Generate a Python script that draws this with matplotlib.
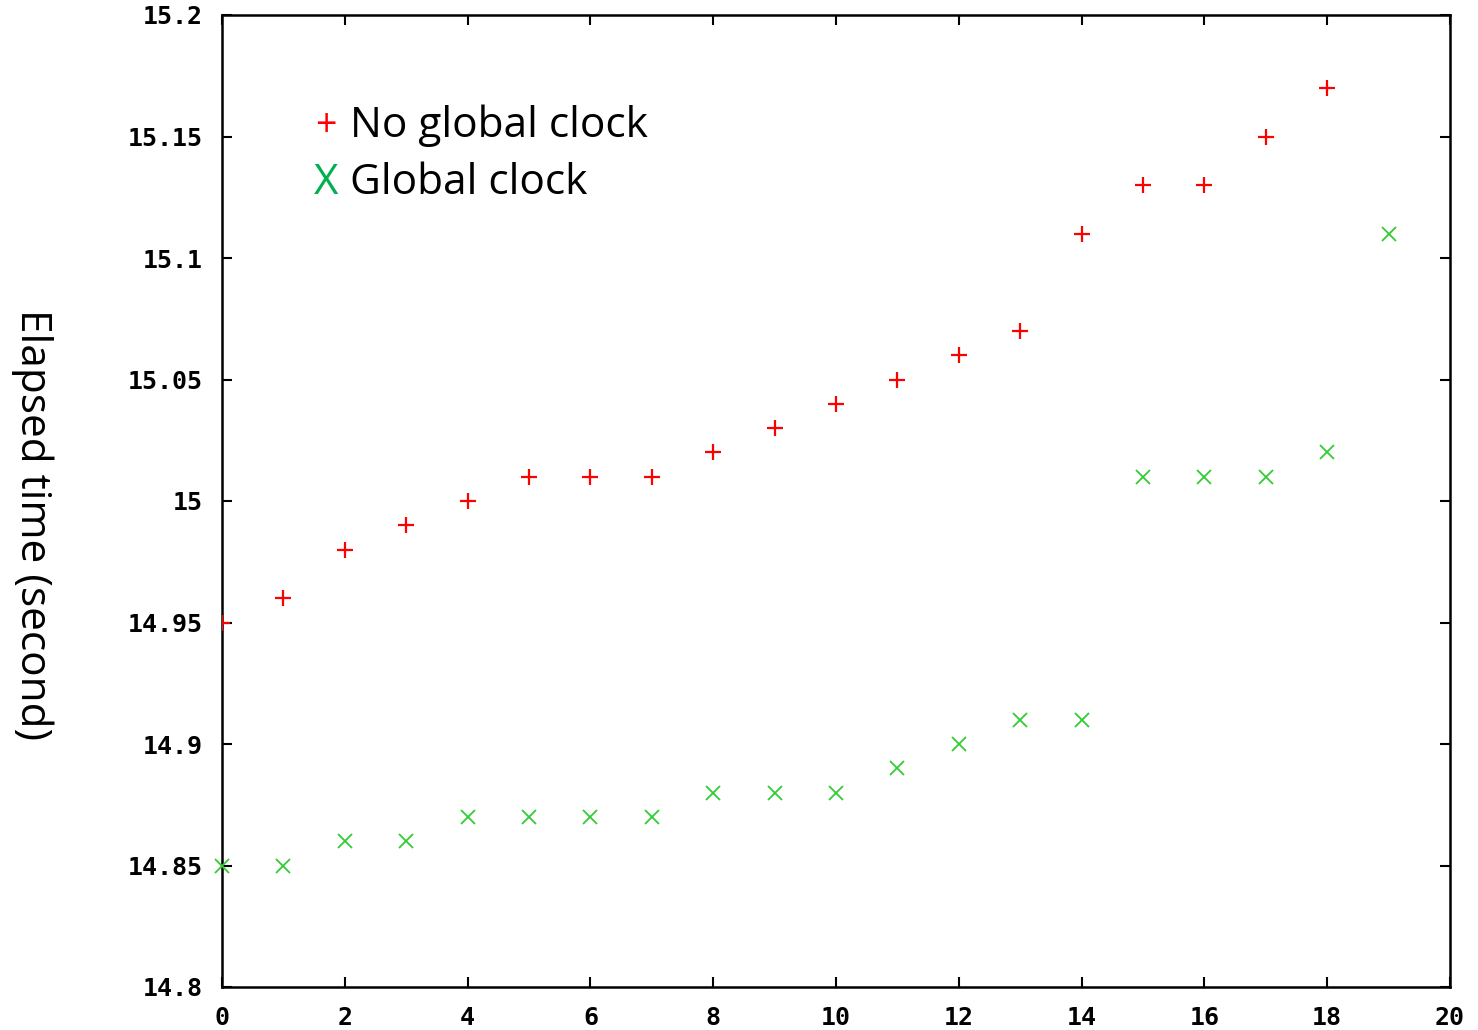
import matplotlib
matplotlib.use("Agg")
import matplotlib.pyplot as plt
from matplotlib.ticker import FuncFormatter

# run index vs elapsed time (seconds)
x_noclock = list(range(0, 19))
y_noclock = [14.95, 14.96, 14.98, 14.99, 15.00, 15.01, 15.01, 15.01, 15.02, 15.03,
             15.04, 15.05, 15.06, 15.07, 15.11, 15.13, 15.13, 15.15, 15.17]
x_clock = list(range(0, 20))
y_clock = [14.85, 14.85, 14.86, 14.86, 14.87, 14.87, 14.87, 14.87, 14.88, 14.88,
           14.88, 14.89, 14.90, 14.91, 14.91, 15.01, 15.01, 15.01, 15.02, 15.11]

x_ticks = list(range(0, 21, 2))
y_ticks = [14.8, 14.85, 14.9, 14.95, 15.0, 15.05, 15.1, 15.15, 15.2]

fig = plt.figure(figsize=(14.78, 10.30), dpi=100)
ax = fig.add_axes([222/1478, 1 - 987/1030, (1450 - 222)/1478, (987 - 15)/1030])

ax.plot(x_noclock, y_noclock, ls='none', marker='+', color='#ff0000',
        markersize=12, markeredgewidth=1.6, zorder=5)
ax.plot(x_clock, y_clock, ls='none', marker='x', color='#33cc33',
        markersize=10, markeredgewidth=1.3, clip_on=False, zorder=5)

ax.set_xlim(0, 20)
ax.set_ylim(14.8, 15.2)
ax.set_xticks(x_ticks)
ax.set_yticks(y_ticks)
ax.yaxis.set_major_formatter(FuncFormatter(lambda v, p: f'{v:g}'))

tick_font = dict(family='DejaVu Sans Mono', weight='bold', size=18)
for lbl in ax.get_xticklabels() + ax.get_yticklabels():
    lbl.set_fontproperties(matplotlib.font_manager.FontProperties(**tick_font))
ax.tick_params(direction='in', length=7, width=1.5, top=True, right=True,
               pad=14, colors='black')
ax.tick_params(axis='x', pad=14)
for s in ax.spines.values():
    s.set_linewidth(1.8)

# hand-made legend
ax.text(326/1478, 1 - 126/1030, '+', transform=fig.transFigure, color='#ff0000',
        fontsize=27, family='Open Sans', ha='center', va='center')
ax.text(350/1478, 1 - 126/1030, 'No global clock', transform=fig.transFigure,
        color='black', fontsize=30.5, family='Open Sans', ha='left', va='center')
ax.text(326/1478, 1 - 183/1030, 'X', transform=fig.transFigure, color='#00b050',
        fontsize=30.5, family='Open Sans', ha='center', va='center')
ax.text(350/1478, 1 - 183/1030, 'Global clock', transform=fig.transFigure,
        color='black', fontsize=30.5, family='Open Sans', ha='left', va='center')

fig.text(32/1478, 1 - 525/1030, 'Elapsed time (second)', rotation=270,
         fontsize=30.5, family='Open Sans', ha='center', va='center')

fig.savefig('out.png', dpi=100)
